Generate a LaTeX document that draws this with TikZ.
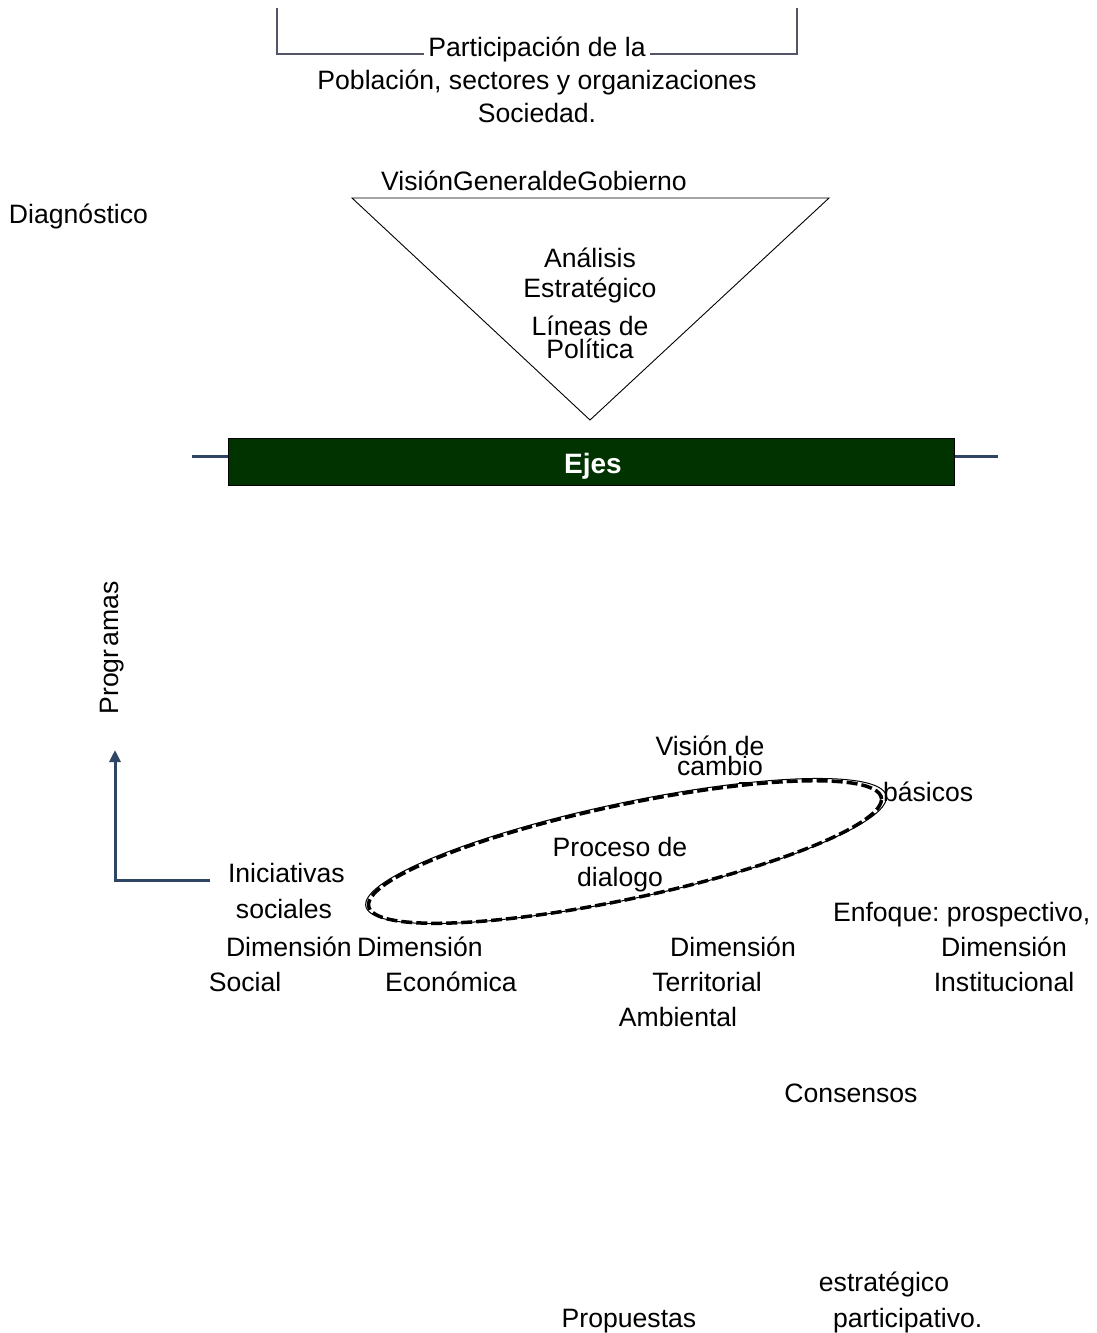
\documentclass[tikz,border=0pt]{standalone}
\usepackage{fontspec}
\setmainfont{Liberation Sans}
\usetikzlibrary{arrows.meta}
\definecolor{bracketgray}{HTML}{55556A}
\definecolor{navyline}{HTML}{2E4664}
\definecolor{ejesgreen}{HTML}{003300}
\tikzset{
  lbl/.style={inner sep=0pt, outer sep=0pt, font=\fontsize{26.6}{31}\selectfont\frenchspacing, anchor=base},
  lblL/.style={lbl, anchor=base west},
  bracket/.style={draw=bracketgray, line width=1.4pt},
  navy/.style={draw=navyline, line width=3pt},
}
\begin{document}
\begin{tikzpicture}[x=1pt,y=-1pt]
\useasboundingbox (0,0) rectangle (1097,1333);
% top bracket
\node[lbl, outer xsep=4pt] (part) at (537,56) {Participación de la};
\coordinate (bl) at (277,8);
\coordinate (blc) at (277,54);
\coordinate (br) at (797,8);
\coordinate (brc) at (797,54);
\draw[bracket] (bl) -- (blc) -- (blc -| part.west);
\draw[bracket] (br) -- (brc) -- (brc -| part.east);
\node[lbl] (pob) at (537,89) {Población, sectores y organizaciones};
\node[lbl] (soc) at (537,122) {Sociedad.};
% triangle
\node[lbl] (vgg) at (534,190) {VisiónGeneraldeGobierno};
\node[lblL] (diag) at (9,223) {Diagnóstico};
\coordinate (t1) at (352,198);
\coordinate (t2) at (829,198);
\coordinate (t3) at (590,420);
\draw[line width=0.9pt] (t1) -- (t2) -- (t3) -- cycle;
\node[lbl] (ana) at (590,267) {Análisis};
\node[lbl] (est) at (590,297) {Estratégico};
\node[lbl] (lin) at (590,335) {Líneas de};
\node[lbl] (pol) at (590,358) {Política};
% Ejes bar
\node[draw=black, fill=ejesgreen, line width=0.8pt, minimum width=726pt, minimum height=47pt, inner sep=0pt, anchor=north west] (ejes) at (228,438) {};
\node[inner sep=0pt, anchor=base, text=white, font=\fontsize{28}{32}\selectfont\bfseries] (ejest) at (593,473) {Ejes};
\coordinate (el) at (192,456);
\coordinate (er) at (998,456);
\draw[navy] (el) -- (el -| ejes.west);
\draw[navy] (ejes.east |- er) -- (er);
% Programas + arrow
\node[lbl, anchor=center, rotate=90] (prog) at (112,648) {Progr\kern3pt amas};
\coordinate (a0) at (210,880);
\coordinate (a1) at (115,880);
\coordinate (a2) at (115,750);
\draw[navy, -{Triangle[length=12pt,width=11pt]}] (a0) -- (a1) -- (a2);
% ellipse
\draw[line width=1pt] plot[domain=0:360, samples=120, smooth cycle, variable=\t]
  ({626+266*cos(\t)*cos(12)+48*sin(\t)*sin(12)}, {851-266*cos(\t)*sin(12)+48*sin(\t)*cos(12)});
\draw[line width=3.5pt, dash pattern=on 11pt off 4pt] plot[domain=0:360, samples=120, smooth cycle, variable=\t]
  ({625+262*cos(\t)*cos(12)+47*sin(\t)*sin(12)}, {852-262*cos(\t)*sin(12)+47*sin(\t)*cos(12)});
\node[lbl] (proc) at (620,856) {Proceso de};
\node[lbl] (dial) at (620,886) {dialogo};
\node[lbl] (vis) at (710,755) {Visión de};
\node[lbl] (cam) at (720,775) {cambio};
\coordinate (u1) at (739,783);
\coordinate (u2) at (748,783);
\draw[line width=1.2pt] (u1) -- (u2);
\node[lblL] (bas) at (883,801) {básicos};
% bottom labels
\node[lblL] (ini) at (228,882) {Iniciativas};
\node[lbl] (socs) at (284,918) {sociales};
\node[lblL] (dim1) at (226,956) {Dimensión};
\node[lbl] (socl) at (245,991) {Social};
\node[lblL] (dim2) at (357,956) {Dimensión};
\node[lbl] (eco) at (451,991) {Económica};
\node[lbl] (dim3) at (733,956) {Dimensión};
\node[lbl] (ter) at (707,991) {Territorial};
\node[lbl] (amb) at (678,1026) {Ambiental};
\node[lblL] (enf) at (833,921) {Enfoque: prospectivo,};
\node[lbl] (dim4) at (1004,956) {Dimensión};
\node[lbl] (inst) at (1004,991) {Institucional};
\node[lbl] (cons) at (851,1102) {Consensos};
\node[lbl] (estr) at (884,1291) {estratégico};
\node[lblL] (parti) at (833,1327) {participativo.};
\node[lbl] (prop) at (629,1327) {Propuestas};
\end{tikzpicture}
\end{document}
